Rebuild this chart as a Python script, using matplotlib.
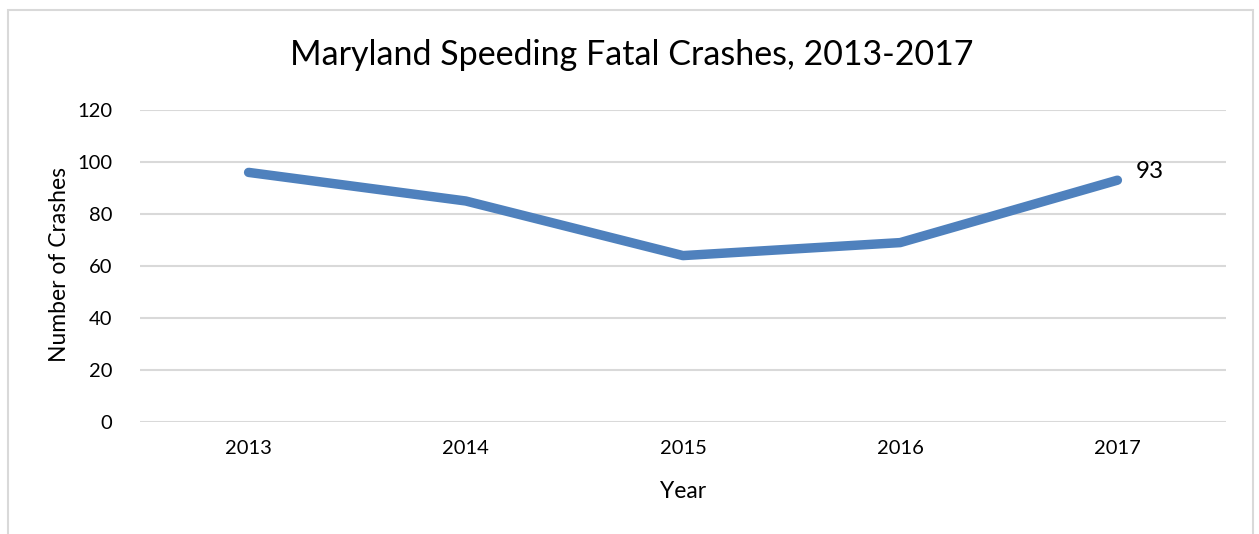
import matplotlib.pyplot as plt
from matplotlib.patches import Rectangle

years = ["2013", "2014", "2015", "2016", "2017"]
crashes = [96, 85, 64, 69, 93]
y_ticks = [0, 20, 40, 60, 80, 100, 120]

plt.rcParams["font.family"] = ["Lato", "DejaVu Sans"]

W, H = 1259, 534
fig = plt.figure(figsize=(W / 100, H / 100), dpi=100)
ax = fig.add_axes([140 / W, 1 - 422 / H, (1226 - 140) / W, (422 - 110) / H])

# chart area border
fig.patches.append(Rectangle((8 / W, -0.1), (1253 - 8) / W, 1.1 - 10 / H,
                             transform=fig.transFigure, fill=False,
                             edgecolor="#d9d9d9", linewidth=1.5))

x = list(range(len(years)))
ax.plot(x, crashes, color="#4f81bd", linewidth=6.8, solid_capstyle="round",
        solid_joinstyle="round", zorder=3)
ax.annotate(str(crashes[-1]), (x[-1], crashes[-1]), xytext=(13, 6),
            textcoords="offset points", fontsize=17.5, va="center", ha="left")

ax.set_xlim(-0.5, len(years) - 0.5)
ax.set_ylim(0, 120)
ax.set_xticks(x)
ax.set_xticklabels(years)
ax.set_yticks(y_ticks)
ax.tick_params(length=0, labelsize=14.5, colors="#000000", pad=13)
ax.tick_params(axis="y", pad=20)
ax.grid(axis="y", color="#d9d9d9", linewidth=1.5)
ax.set_axisbelow(True)
for s in ax.spines.values():
    s.set_visible(False)

fig.text(632 / W, 1 - 55 / H, "Maryland Speeding Fatal Crashes, 2013-2017",
         fontsize=24.5, ha="center", va="center")
fig.text(683 / W, 1 - 491 / H, "Year", fontsize=16.5, ha="center", va="center")
fig.text(60 / W, 1 - 265 / H, "Number of Crashes", fontsize=16.5,
         ha="center", va="center", rotation=90)

fig.savefig("out.png", dpi=100)
